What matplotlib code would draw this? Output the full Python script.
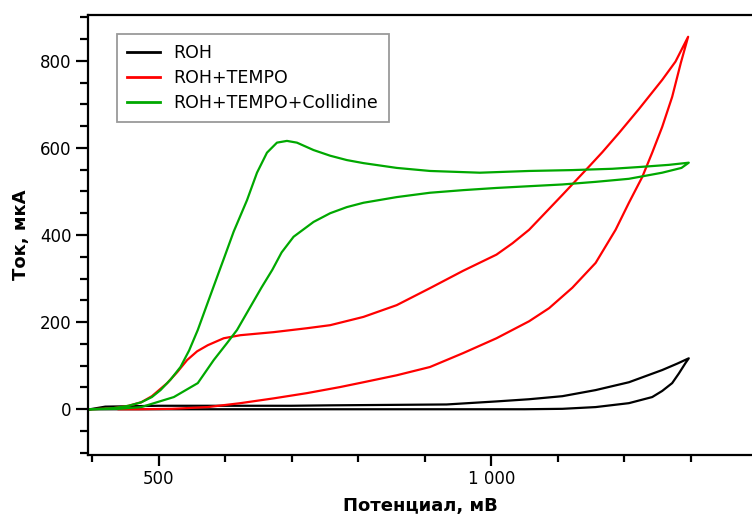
import matplotlib.pyplot as plt
from matplotlib.ticker import MultipleLocator, FuncFormatter

# ROH: forward then reverse scan (E in mV, I in uA)
roh_e = [397, 420, 500, 700, 758, 933, 1008, 1057, 1107, 1157, 1207, 1257, 1280, 1297,
         1292, 1282, 1272, 1257, 1242, 1207, 1157, 1107, 1050, 900, 700, 500, 397]
roh_i = [0, 6, 8, 8, 9, 11, 18, 23, 30, 44, 62, 90, 105, 117,
         106, 82, 60, 42, 28, 14, 5, 1, 0, 0, 0, 0, 0]

# ROH+TEMPO
tempo_e = [397, 430, 455, 474, 490, 513, 528, 543, 558, 574, 598, 623, 673, 723,
           758, 808, 858, 908, 958, 1008, 1032, 1057, 1107, 1147, 1167, 1192, 1222,
           1257, 1277, 1296,
           1285, 1272, 1257, 1242, 1227, 1207, 1187, 1157, 1122, 1087, 1057, 1008,
           958, 908, 858, 808, 773, 723, 673, 623, 574, 520, 470, 440]
tempo_i = [0, 2, 8, 16, 30, 60, 85, 113, 133, 147, 163, 170, 177, 186,
           193, 212, 239, 278, 318, 355, 381, 412, 492, 557, 590, 634, 689,
           756, 798, 855,
           795, 717, 648, 589, 533, 474, 412, 336, 279, 232, 202, 163,
           129, 97, 78, 62, 51, 37, 25, 14, 5, 1, 0, 0]

# ROH+TEMPO+Collidine
coll_e = [397, 430, 455, 474, 490, 503, 518, 533, 546, 559, 574, 591, 598, 613,
          633, 648, 663, 678, 693, 708, 733, 758, 783, 808, 858, 908, 983, 1057,
          1122, 1182, 1222, 1267, 1297,
          1286, 1257, 1207, 1157, 1107, 1057, 1008, 958, 908, 858, 808, 783, 758,
          733, 703, 685, 671, 655, 638, 618, 603, 583, 559, 523, 474, 440, 397]
coll_i = [0, 2, 8, 16, 28, 44, 68, 97, 135, 182, 245, 316, 345, 408,
          480, 543, 589, 612, 616, 612, 595, 582, 572, 565, 554, 547, 543, 547,
          549, 552, 556, 561, 566,
          554, 543, 529, 522, 516, 512, 508, 503, 497, 487, 474, 464, 450,
          430, 396, 360, 320, 280, 235, 182, 152, 113, 60, 28, 5, 1, 0]

fig = plt.figure(figsize=(7.52, 5.17), dpi=100)
ax = fig.add_axes([88 / 752, 1 - 455 / 517, 1 - 88 / 752, 440 / 517])

lw = 1.6
ax.plot(roh_e, roh_i, color='black', lw=lw, label='ROH')
ax.plot(tempo_e, tempo_i, color='#ff0000', lw=lw, label='ROH+TEMPO')
ax.plot(coll_e, coll_i, color='#00a800', lw=lw, label='ROH+TEMPO+Collidine')

ax.set_xlim(394, 1392)
ax.set_ylim(-105, 905)

ax.xaxis.set_major_locator(MultipleLocator(500))
ax.xaxis.set_minor_locator(MultipleLocator(100))
ax.yaxis.set_major_locator(MultipleLocator(200))
ax.yaxis.set_minor_locator(MultipleLocator(50))
ax.xaxis.set_major_formatter(FuncFormatter(lambda v, p: f"{int(v):,}".replace(',', ' ')))

for s in ['left', 'bottom', 'top']:
    ax.spines[s].set_linewidth(1.6)
ax.spines['right'].set_visible(False)

ax.tick_params(which='major', direction='out', length=8, width=1.6, labelsize=12, pad=3)
ax.tick_params(which='minor', direction='out', length=5, width=1.6)
ax.tick_params(axis='y', which='major', length=9)
ax.tick_params(axis='y', which='minor', length=6)

ax.set_xlabel('Потенциал, мВ', fontsize=13, fontweight='bold', labelpad=6)
ax.set_ylabel('Ток, мкА', fontsize=13, fontweight='bold', labelpad=7)

leg = ax.legend(loc='upper left', bbox_to_anchor=(117 / 752, 1 - 34 / 517),
                bbox_transform=fig.transFigure, borderaxespad=0, fontsize=12.5,
                fancybox=False, frameon=True, handlelength=1.85, handletextpad=0.8,
                labelspacing=0.38, borderpad=0.6)
leg.get_frame().set_edgecolor('#808080')
leg.get_frame().set_linewidth(1.3)
for line in leg.get_lines():
    line.set_linewidth(2)

fig.savefig('out.png', dpi=100)
